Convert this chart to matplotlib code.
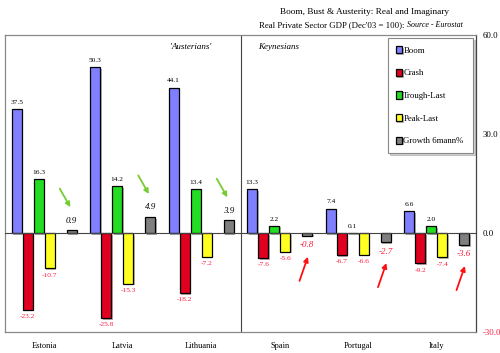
import matplotlib
matplotlib.use("Agg")
import matplotlib.pyplot as plt
import matplotlib.patheffects as pe
import numpy as np

# Data
countries = ["Estonia", "Latvia", "Lithuania", "Spain", "Portugal", "Italy"]
boom = [37.5, 50.3, 44.1, 13.3, 7.4, 6.6]
crash = [-23.2, -25.8, -18.2, -7.6, -6.7, -9.2]
trough_last = [16.3, 14.2, 13.4, 2.2, 0.1, 2.0]
peak_last = [-10.7, -15.3, -7.2, -5.6, -6.6, -7.4]
growth = [0.9, 4.9, 3.9, -0.8, -2.7, -3.6]

series_names = ["Boom", "Crash", "Trough-Last", "Peak-Last", "Growth 6mann%"]
series_colors = ["#7f7fff", "#e0001f", "#22dd22", "#ffff22", "#7f7f7f"]
series_slots = [0, 1, 2, 3, 5]   # slot 4 is empty in the original
yticks = [60.0, 30.0, 0.0, -30.0]

plt.rcParams["font.family"] = ["Liberation Serif", "DejaVu Serif"]

fig = plt.figure(figsize=(5.0, 3.53), dpi=100)
ax = fig.add_axes([0.01, 0.0595, 0.942, 0.841])

x = np.arange(len(countries))
step = 0.14
width = 0.127
shadow = [pe.SimplePatchShadow(offset=(1.2, -1.2), alpha=0.35), pe.Normal()]

all_series = [boom, crash, trough_last, peak_last, growth]
handles = []
for vals, name, col, slot in zip(all_series, series_names, series_colors, series_slots):
    pos = x + (slot - 2.5) * step
    bars = ax.bar(pos, vals, width, color=col, edgecolor="black", linewidth=0.9,
                  label=name, zorder=3)
    for b in bars:
        b.set_path_effects(shadow)
    handles.append(bars)
    is_growth = name.startswith("Growth")
    for px, v in zip(pos, vals):
        if is_growth:
            fs, style, off = 6.5, "italic", 4
        else:
            fs, style, off = 5.3, "normal", 3
        if v >= 0:
            ax.annotate("%.1f" % v, (px, v), xytext=(0, off), textcoords="offset points",
                        ha="center", va="bottom", fontsize=fs, style=style, color="black")
        else:
            ax.annotate("%.1f" % v, (px, v), xytext=(0, -off), textcoords="offset points",
                        ha="center", va="top", fontsize=fs, style=style, color="#ff1a3c")

# arrows pointing at the latest growth figures
for i, v in enumerate(growth):
    if v >= 0:
        ax.annotate("", xy=(i + 0.35, v + 6.2), xytext=(i + 0.18, v + 13.3),
                    arrowprops=dict(arrowstyle="-|>", color="#77cc33", lw=1.3,
                                    mutation_scale=7), zorder=5)
    else:
        ax.annotate("", xy=(i + 0.37, v - 5.6), xytext=(i + 0.24, v - 14.5),
                    arrowprops=dict(arrowstyle="-|>", color="#ff1010", lw=1.3,
                                    mutation_scale=7), zorder=5)

ax.axhline(0, color="#444444", lw=0.8, zorder=4)
ax.axvline(2.5, color="#444444", lw=0.8, zorder=2)

ax.text(1.87, 56.4, "'Austerians'", style="italic", fontsize=6.5, ha="center", va="center")
ax.text(2.73, 56.4, "Keynesians", style="italic", fontsize=6.5, ha="left", va="center")

ax.set_xlim(-0.5, 5.5)
ax.set_ylim(-30, 60)
ax.set_xticks(x)
ax.set_xticklabels(countries, fontsize=6)
ax.tick_params(axis="x", length=0, pad=7)

ax.yaxis.tick_right()
ax.set_yticks(yticks)
ax.set_yticklabels(["%.1f" % t for t in yticks], fontsize=6.3)
ax.tick_params(axis="y", length=0, pad=5)
ax.get_yticklabels()[-1].set_color("#ff1a3c")

for side in ["left", "top", "bottom"]:
    ax.spines[side].set_color("#888888")
    ax.spines[side].set_linewidth(0.9)
ax.spines["right"].set_color("#444444")
ax.spines["right"].set_linewidth(0.9)

leg = ax.legend(handles=handles, loc="upper left", bbox_to_anchor=(0.813, 0.99, 0.181, 0.0),
                mode="expand", fontsize=6.3, handlelength=0.7, handleheight=0.9,
                handletextpad=0.15, labelspacing=1.6, borderpad=0.9,
                frameon=True, fancybox=False, shadow={"ox": 1.5, "oy": -1.5, "alpha": 0.25},
                borderaxespad=0)
leg.get_frame().set_edgecolor("#888888")
leg.get_frame().set_linewidth(0.8)

fig.text(0.728, 0.965, "Boom, Bust & Austerity: Real and Imaginary", fontsize=6.7,
         ha="center", va="center")
t1 = fig.text(0.518, 0.928, "Real Private Sector GDP (Dec'03 = 100): ", fontsize=6.3,
              ha="left", va="center")
fig.canvas.draw()
bb = t1.get_window_extent(renderer=fig.canvas.get_renderer())
fig.text(bb.x1 / fig.bbox.width, 0.928, "Source - Eurostat", fontsize=5.8, style="italic",
         ha="left", va="center")

fig.savefig("out.png", dpi=100)
